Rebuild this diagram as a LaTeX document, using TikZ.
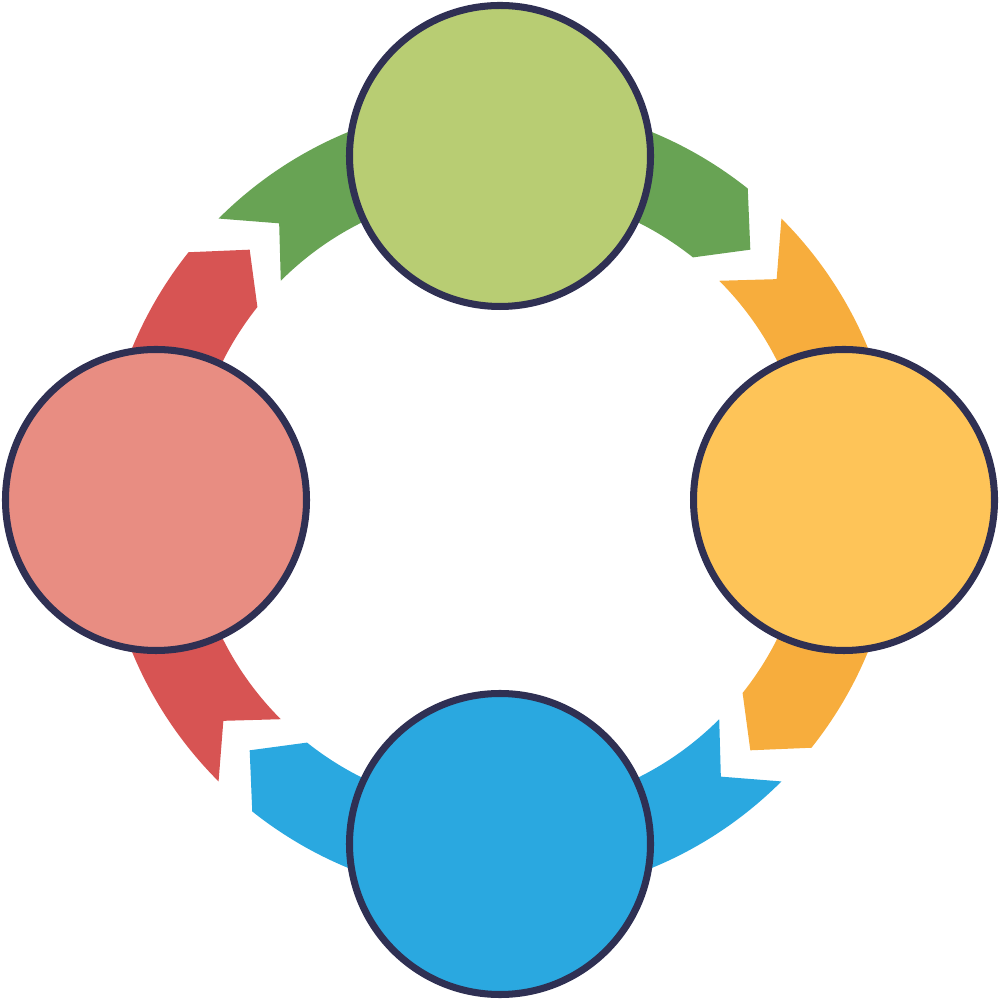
\documentclass[tikz,border=0pt]{standalone}
\definecolor{grnribbon}{HTML}{68A354}
\definecolor{orgribbon}{HTML}{F7AD3D}
\definecolor{bluribbon}{HTML}{2AA8E0}
\definecolor{redribbon}{HTML}{D75453}
\definecolor{grncircle}{HTML}{B8CD73}
\definecolor{orgcircle}{HTML}{FEC458}
\definecolor{blucircle}{HTML}{2AA8E0}
\definecolor{redcircle}{HTML}{E88D82}
\definecolor{rimcolor}{HTML}{2F3053}
\begin{document}
\begin{tikzpicture}[line join=round,
  disc/.style={circle, draw=rimcolor, line width=2pt, minimum size=3.01cm, inner sep=0pt}]
 \useasboundingbox (-5,-5) rectangle (5,5);
 % ribbons: notched tail at \t, pointed head at \t-90
 \foreach \t/\c in {135/grnribbon, 45/orgribbon, -45/bluribbon, -135/redribbon}
  \fill[\c] (\t:3.98) arc[start angle=\t, end angle=\t-83.5, radius=3.98] -- (\t-90:3.54)
   -- (\t-83.5:3.10) arc[start angle=\t-83.5, end angle=\t, radius=3.10] -- (\t-6.4:3.54) -- cycle;
 % discs on top
 \foreach \a/\c/\n in {90/grncircle/top, 0/orgcircle/right, -90/blucircle/bottom, 180/redcircle/left}
  \node[disc, fill=\c] (\n) at (\a:3.44) {};
\end{tikzpicture}
\end{document}
